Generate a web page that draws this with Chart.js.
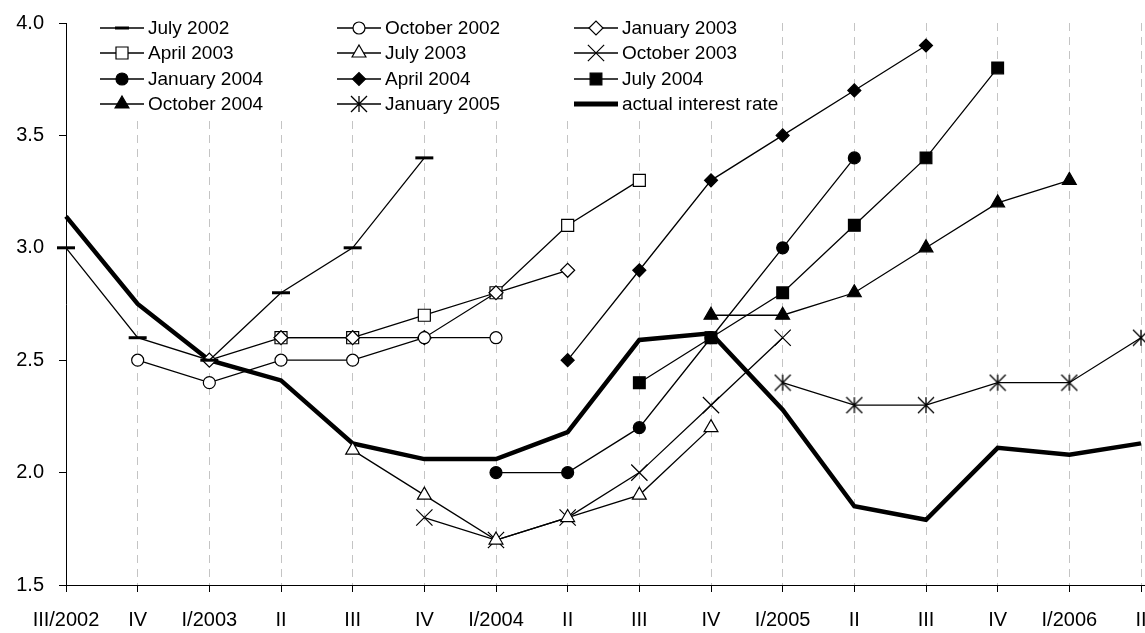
<!DOCTYPE html>
<html>
<head>
<meta charset="utf-8">
<script src="https://cdn.jsdelivr.net/npm/chart.js@4/dist/chart.umd.min.js"></script>
<style>
  html, body { margin: 0; padding: 0; background: #fff; overflow: hidden; }
  #wrap { width: 1151px; height: 633px; }
</style>
</head>
<body>
<div id="wrap"><canvas id="forecast-chart" width="1151" height="633"></canvas></div>
<script>
// quarters on the x axis
const quarters = ['III/2002', 'IV', 'I/2003', 'II', 'III', 'IV', 'I/2004', 'II', 'III', 'IV', 'I/2005', 'II', 'III', 'IV', 'I/2006', 'II'];
const yTicks = [1.5, 2.0, 2.5, 3.0, 3.5, 4.0];

// forecasts made at each date (null = not in that forecast)
const july2002 = [3.0, 2.6, 2.5, 2.8, 3.0, 3.4, null, null, null, null, null, null, null, null, null, null];
const october2002 = [null, 2.5, 2.4, 2.5, 2.5, 2.6, 2.6, null, null, null, null, null, null, null, null, null];
const january2003 = [null, null, 2.5, 2.6, 2.6, 2.6, 2.8, 2.9, null, null, null, null, null, null, null, null];
const april2003 = [null, null, null, 2.6, 2.6, 2.7, 2.8, 3.1, 3.3, null, null, null, null, null, null, null];
const july2003 = [null, null, null, null, 2.1, 1.9, 1.7, 1.8, 1.9, 2.2, null, null, null, null, null, null];
const october2003 = [null, null, null, null, null, 1.8, 1.7, 1.8, 2.0, 2.3, 2.6, null, null, null, null, null];
const january2004 = [null, null, null, null, null, null, 2.0, 2.0, 2.2, 2.6, 3.0, 3.4, null, null, null, null];
const april2004 = [null, null, null, null, null, null, null, 2.5, 2.9, 3.3, 3.5, 3.7, 3.9, null, null, null];
const july2004 = [null, null, null, null, null, null, null, null, 2.4, 2.6, 2.8, 3.1, 3.4, 3.8, null, null];
const october2004 = [null, null, null, null, null, null, null, null, null, 2.7, 2.7, 2.8, 3.0, 3.2, 3.3, null];
const january2005 = [null, null, null, null, null, null, null, null, null, null, 2.4, 2.3, 2.3, 2.4, 2.4, 2.6];
const actualRate = [3.14, 2.75, 2.5, 2.41, 2.13, 2.06, 2.06, 2.18, 2.59, 2.62, 2.28, 1.85, 1.79, 2.11, 2.08, 2.13];

const FONT = "'Liberation Sans', Arial, sans-serif";

// excel style asterisk marker (x plus vertical bar)
function makeStar(size) {
    const c = document.createElement('canvas');
    c.width = c.height = size * 2 + 2;
    const g = c.getContext('2d');
    const m = size + 1;
    g.strokeStyle = '#000';
    g.lineWidth = 1.3;
    g.beginPath();
    g.moveTo(m - size, m - size); g.lineTo(m + size, m + size);
    g.moveTo(m + size, m - size); g.lineTo(m - size, m + size);
    g.moveTo(m, m - size); g.lineTo(m, m + size);
    g.stroke();
    return c;
}

function series(label, data, style, radius, fill, extra) {
    return Object.assign({
        label: label,
        data: data,
        borderColor: '#000',
        borderWidth: 1.3,
        pointStyle: style,
        pointRadius: radius,
        pointHoverRadius: radius,
        pointBackgroundColor: fill,
        pointBorderColor: '#000',
        pointBorderWidth: 1.2,
        tension: 0,
        fill: false
    }, extra || {});
}

// legend drawn in a 3 column grid over the top of the plot
const legendGrid = {
    id: 'legendGrid',
    beforeDatasetsDraw(chart) {
        const ctx = chart.ctx;
        const cols = [100, 337, 574];
        const rows = [28, 53, 79, 104];
        ctx.save();
        ctx.fillStyle = '#fff';
        ctx.fillRect(92, 12, 690, 106);
        chart.data.datasets.forEach((ds, i) => {
            const x = cols[i % 3];
            const y = rows[Math.floor(i / 3)];
            ctx.strokeStyle = '#000';
            ctx.lineWidth = ds.legendLine || ds.borderWidth;
            ctx.beginPath();
            ctx.moveTo(x, y);
            ctx.lineTo(x + 44, y);
            ctx.stroke();
            if (ds.pointRadius > 0 && Chart.helpers && Chart.helpers.drawPoint) {
                ctx.fillStyle = ds.pointBackgroundColor;
                ctx.lineWidth = ds.pointBorderWidth;
                Chart.helpers.drawPoint(ctx, {
                    pointStyle: ds.pointStyle,
                    radius: ds.legendRadius || ds.pointRadius,
                    rotation: 0,
                    borderWidth: ds.pointBorderWidth
                }, x + 22, y);
            }
            ctx.fillStyle = '#000';
            ctx.font = '19px ' + FONT;
            ctx.textBaseline = 'middle';
            ctx.textAlign = 'left';
            ctx.fillText(ds.label, x + 48, y + 1);
        });
        ctx.restore();
    }
};

// the x axis line runs on to the right edge of the picture
const axisTail = {
    id: 'axisTail',
    afterDraw(chart) {
        const ctx = chart.ctx;
        const y = Math.round(chart.chartArea.bottom) + 0.5;
        ctx.save();
        ctx.strokeStyle = '#000';
        ctx.lineWidth = 1;
        ctx.beginPath();
        ctx.moveTo(chart.chartArea.right, y);
        ctx.lineTo(chart.width, y);
        ctx.stroke();
        ctx.restore();
    }
};

document.addEventListener('DOMContentLoaded', function() {
    const ctx = document.getElementById('forecast-chart').getContext('2d');
    window.forecastChart = new Chart(ctx, {
        type: 'line',
        data: {
            labels: quarters,
            datasets: [
                series('July 2002', july2002, 'line', 9, '#000', { pointBorderWidth: 3, legendRadius: 7 }),
                series('October 2002', october2002, 'circle', 6, '#fff'),
                series('January 2003', january2003, 'rectRot', 7, '#fff'),
                series('April 2003', april2003, 'rect', 8.5, '#fff'),
                series('July 2003', july2003, 'triangle', 8, '#fff'),
                series('October 2003', october2003, 'crossRot', 11.5, '#fff'),
                series('January 2004', january2004, 'circle', 6, '#000'),
                series('April 2004', april2004, 'rectRot', 6.5, '#000'),
                series('July 2004', july2004, 'rect', 8.3, '#000'),
                series('October 2004', october2004, 'triangle', 8, '#000'),
                series('January 2005', january2005, makeStar(8), 8, '#000'),
                series('actual interest rate', actualRate, 'circle', 0, '#000', { borderWidth: 4.5, legendLine: 5 })
            ]
        },
        options: {
            responsive: false,
            animation: false,
            events: [],
            layout: {
                autoPadding: false,
                padding: { top: 23, right: 10, bottom: 0, left: 0 }
            },
            scales: {
                x: {
                    ticks: {
                        color: '#000',
                        font: { family: FONT, size: 20 },
                        padding: 16,
                        maxRotation: 0,
                        autoSkip: false
                    },
                    grid: {
                        color: '#c4c4c4',
                        tickColor: '#000',
                        tickLength: 7,
                        tickBorderDash: []
                    },
                    border: {
                        color: '#000',
                        width: 1,
                        dash: [8, 6]
                    },
                    afterFit: function(scale) {
                        scale.height = 48;
                        scale.paddingLeft = 0;
                        scale.paddingRight = 0;
                    }
                },
                y: {
                    min: 1.5,
                    max: 4.0,
                    afterBuildTicks: function(scale) {
                        scale.ticks = yTicks.map(v => ({ value: v }));
                    },
                    ticks: {
                        color: '#000',
                        font: { family: FONT, size: 20 },
                        padding: 15,
                        callback: function(value) {
                            return Number(value).toFixed(1);
                        }
                    },
                    grid: {
                        drawOnChartArea: false,
                        tickColor: '#000',
                        tickLength: 7
                    },
                    border: {
                        color: '#000',
                        width: 1
                    },
                    afterFit: function(scale) {
                        scale.width = 66;
                        scale.paddingTop = 0;
                        scale.paddingBottom = 0;
                    }
                }
            },
            plugins: {
                legend: { display: false },
                tooltip: { enabled: false }
            }
        },
        plugins: [legendGrid, axisTail]
    });
});
</script>
</body>
</html>
